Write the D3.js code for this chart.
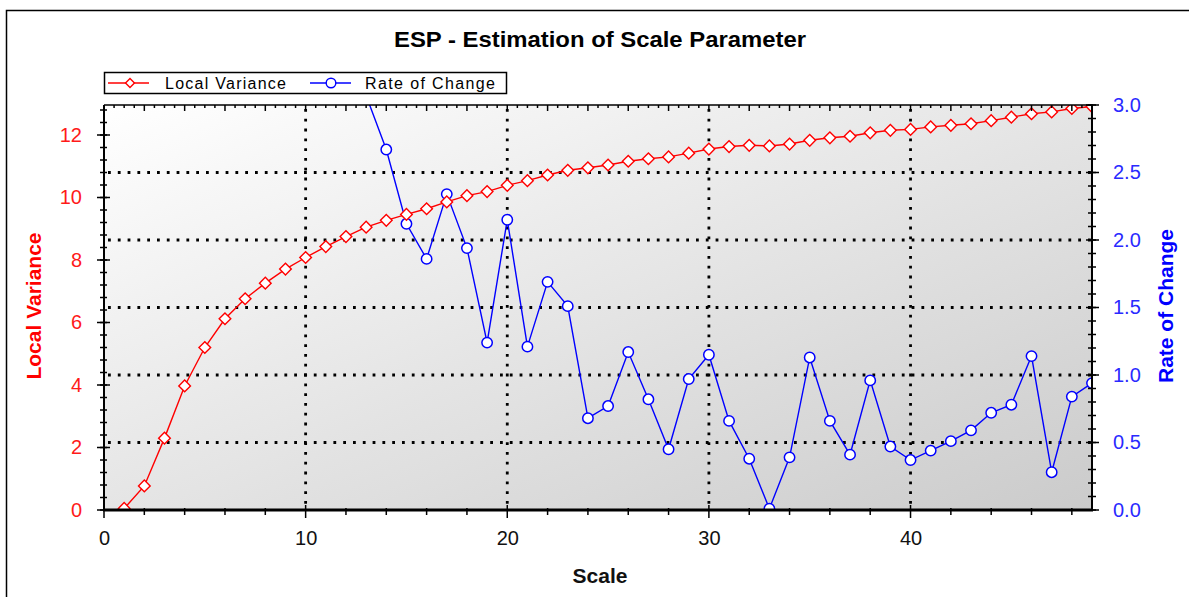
<!DOCTYPE html>
<html>
<head>
<meta charset="utf-8">
<script src="https://cdn.jsdelivr.net/npm/d3@7"></script>
<style>
  body { margin: 0; background: #fff; }
  svg { display: block; font-family: "Liberation Sans", Arial, sans-serif; }
</style>
</head>
<body>
<div id="chart"></div>
<script>
// scale values 1..49
var scales = d3.range(1, 50);

// Local Variance (left axis), one value per scale 1..49
var localVariance = [
  0.05, 0.77, 2.30, 3.97, 5.20, 6.12, 6.76, 7.26, 7.71, 8.08,
  8.43, 8.75, 9.05, 9.27, 9.46, 9.64, 9.86, 10.06, 10.19, 10.39,
  10.54, 10.72, 10.87, 10.95, 11.04, 11.16, 11.24, 11.30, 11.42, 11.55,
  11.63, 11.67, 11.65, 11.71, 11.83, 11.91, 11.96, 12.07, 12.15, 12.18,
  12.26, 12.31, 12.36, 12.46, 12.57, 12.68, 12.74, 12.85, 12.91
];

// Rate of Change (right axis), visible from scale 13 on
var rateScales = d3.range(13, 50);
var rateOfChange = [
  3.07, 2.67, 2.12, 1.86, 2.34, 1.94, 1.24, 2.15, 1.21, 1.69,
  1.51, 0.68, 0.77, 1.17, 0.82, 0.45, 0.97, 1.15, 0.66, 0.38,
  0.01, 0.39, 1.13, 0.66, 0.41, 0.96, 0.47, 0.37, 0.44, 0.51,
  0.59, 0.72, 0.78, 1.14, 0.28, 0.84, 0.94
];

var leftTicks = [0, 2, 4, 6, 8, 10, 12];
var rightTicks = [0, 0.5, 1, 1.5, 2, 2.5, 3];
var xTicks = [0, 10, 20, 30, 40];

var W = 1189, H = 597;
var plot = { left: 104, right: 1092, top: 105, bottom: 510 };

var svg = d3.select("#chart").append("svg")
  .attr("width", W)
  .attr("height", H);

// outer frame
svg.append("rect")
  .attr("x", 6.5).attr("y", 10.5)
  .attr("width", 1250).attr("height", 650)
  .attr("fill", "#fff")
  .attr("stroke", "#000")
  .attr("stroke-width", 1.5);

var x = d3.scaleLinear().domain([0, 49]).range([plot.left, plot.right]);
var yL = d3.scaleLinear().domain([0, 12.96]).range([plot.bottom, plot.top]);
var yR = d3.scaleLinear().domain([0, 3]).range([plot.bottom, plot.top]);

// plot background gradient
var defs = svg.append("defs");
var grad = defs.append("linearGradient")
  .attr("id", "bg")
  .attr("x1", 0).attr("y1", 0).attr("x2", 1).attr("y2", 1);
grad.append("stop").attr("offset", "0%").attr("stop-color", "#ffffff");
grad.append("stop").attr("offset", "100%").attr("stop-color", "#cbcbcb");

defs.append("clipPath").attr("id", "clip")
  .append("rect")
  .attr("x", plot.left).attr("y", plot.top)
  .attr("width", plot.right - plot.left)
  .attr("height", plot.bottom - plot.top);

svg.append("rect")
  .attr("x", plot.left).attr("y", plot.top)
  .attr("width", plot.right - plot.left)
  .attr("height", plot.bottom - plot.top)
  .attr("fill", "url(#bg)");

// dotted grid
var grid = svg.append("g")
  .attr("stroke", "#000")
  .attr("stroke-width", 2.8)
  .attr("stroke-dasharray", "2.8,7");

grid.selectAll(".vg")
  .data(xTicks.filter(function (d) { return d > 0; }))
  .enter().append("line")
  .attr("x1", function (d) { return x(d); })
  .attr("x2", function (d) { return x(d); })
  .attr("y1", plot.top + 4)
  .attr("y2", plot.bottom);

grid.selectAll(".hg")
  .data(rightTicks.filter(function (d) { return d > 0 && d < 3; }))
  .enter().append("line")
  .attr("y1", function (d) { return yR(d); })
  .attr("y2", function (d) { return yR(d); })
  .attr("x1", plot.left + 4)
  .attr("x2", plot.right);

// series
var series = svg.append("g").attr("clip-path", "url(#clip)");

var rateData = rateScales.map(function (s, i) { return [s, rateOfChange[i]]; });
var lvData = scales.map(function (s, i) { return [s, localVariance[i]]; });

series.append("path")
  .datum(rateData)
  .attr("fill", "none")
  .attr("stroke", "#0000ff")
  .attr("stroke-width", 1.4)
  .attr("d", d3.line()
    .x(function (d) { return x(d[0]); })
    .y(function (d) { return yR(d[1]); }));

series.selectAll(".rc")
  .data(rateData)
  .enter().append("circle")
  .attr("cx", function (d) { return x(d[0]); })
  .attr("cy", function (d) { return yR(d[1]); })
  .attr("r", 5.2)
  .attr("fill", "#fff")
  .attr("stroke", "#0000ff")
  .attr("stroke-width", 1.5);

series.append("path")
  .datum(lvData)
  .attr("fill", "none")
  .attr("stroke", "#ff0000")
  .attr("stroke-width", 1.4)
  .attr("d", d3.line()
    .x(function (d) { return x(d[0]); })
    .y(function (d) { return yL(d[1]); }));

var diamond = d3.symbol().type(d3.symbolSquare).size(68);
series.selectAll(".lv")
  .data(lvData)
  .enter().append("path")
  .attr("d", diamond)
  .attr("transform", function (d) {
    return "translate(" + x(d[0]) + "," + yL(d[1]) + ") rotate(45)";
  })
  .attr("fill", "#fff")
  .attr("stroke", "#ff0000")
  .attr("stroke-width", 1.4);

// axis frame lines
var frame = svg.append("g").attr("stroke", "#000");
frame.append("line").attr("x1", plot.left).attr("x2", plot.right + 1)
  .attr("y1", plot.top).attr("y2", plot.top).attr("stroke-width", 1.5);
frame.append("line").attr("x1", plot.left - 1).attr("x2", plot.right + 1)
  .attr("y1", plot.bottom).attr("y2", plot.bottom).attr("stroke-width", 3);
frame.append("line").attr("x1", plot.left).attr("x2", plot.left)
  .attr("y1", plot.top).attr("y2", plot.bottom).attr("stroke-width", 2);
frame.append("line").attr("x1", plot.right).attr("x2", plot.right)
  .attr("y1", plot.top).attr("y2", plot.bottom).attr("stroke-width", 2);

// minor / inner ticks
var ticks = svg.append("g").attr("stroke", "#000").attr("stroke-width", 1.5);

ticks.selectAll(".tt")
  .data(d3.range(0, 49.01, 0.5))
  .enter().append("line")
  .attr("x1", function (d) { return x(d); })
  .attr("x2", function (d) { return x(d); })
  .attr("y1", plot.top)
  .attr("y2", function (d) { return plot.top + (d % 2 === 0 ? 6 : 3); });

ticks.selectAll(".bt")
  .data(d3.range(0, 49, 2))
  .enter().append("line")
  .attr("x1", function (d) { return x(d); })
  .attr("x2", function (d) { return x(d); })
  .attr("y1", function (d) { return plot.bottom - (d % 10 === 0 ? 5 : 2); })
  .attr("y2", function (d) { return plot.bottom + (d % 10 === 0 ? 8 : 5); });

ticks.selectAll(".lt")
  .data(d3.range(0, 12.96, 0.4))
  .enter().append("line")
  .attr("y1", function (d) { return yL(d); })
  .attr("y2", function (d) { return yL(d); })
  .attr("x1", plot.left - 4)
  .attr("x2", plot.left + 3);

ticks.selectAll(".lt2")
  .data(leftTicks)
  .enter().append("line")
  .attr("y1", function (d) { return yL(d); })
  .attr("y2", function (d) { return yL(d); })
  .attr("x1", plot.left - 7)
  .attr("x2", plot.left + 6);

ticks.selectAll(".rt")
  .data(d3.range(0, 3.001, 0.1))
  .enter().append("line")
  .attr("y1", function (d) { return yR(d); })
  .attr("y2", function (d) { return yR(d); })
  .attr("x1", plot.right - 4)
  .attr("x2", plot.right + 4);

ticks.selectAll(".rt2")
  .data(rightTicks)
  .enter().append("line")
  .attr("y1", function (d) { return yR(d); })
  .attr("y2", function (d) { return yR(d); })
  .attr("x1", plot.right - 6)
  .attr("x2", plot.right + 7);

// tick labels via d3 axes
var bottomAxis = svg.append("g")
  .attr("transform", "translate(0," + plot.bottom + ")")
  .call(d3.axisBottom(x).tickValues(xTicks).tickSize(8).tickPadding(13)
    .tickFormat(d3.format("d")));
bottomAxis.select(".domain").remove();
bottomAxis.selectAll("line").remove();
bottomAxis.selectAll("text")
  .attr("font-size", 20).attr("fill", "#111")
  .attr("font-family", "Liberation Sans, Arial, sans-serif");

var leftAxis = svg.append("g")
  .attr("transform", "translate(" + plot.left + ",0)")
  .call(d3.axisLeft(yL).tickValues(leftTicks).tickSize(7).tickPadding(15)
    .tickFormat(d3.format("d")));
leftAxis.select(".domain").remove();
leftAxis.selectAll("line").remove();
leftAxis.selectAll("text")
  .attr("font-size", 20).attr("fill", "#ff1a1a")
  .attr("font-family", "Liberation Sans, Arial, sans-serif");

var rightAxis = svg.append("g")
  .attr("transform", "translate(" + plot.right + ",0)")
  .call(d3.axisRight(yR).tickValues(rightTicks).tickSize(7).tickPadding(14)
    .tickFormat(d3.format(".1f")));
rightAxis.select(".domain").remove();
rightAxis.selectAll("line").remove();
rightAxis.selectAll("text")
  .attr("font-size", 20).attr("fill", "#2a2aff")
  .attr("font-family", "Liberation Sans, Arial, sans-serif");

// titles
svg.append("text")
  .attr("x", 600).attr("y", 47)
  .attr("text-anchor", "middle")
  .attr("font-size", 22).attr("font-weight", "bold")
  .attr("textLength", 412).attr("lengthAdjust", "spacingAndGlyphs")
  .text("ESP - Estimation of Scale Parameter");

svg.append("text")
  .attr("x", 600).attr("y", 583)
  .attr("text-anchor", "middle")
  .attr("font-size", 21).attr("font-weight", "bold")
  .attr("fill", "#111")
  .text("Scale");

svg.append("text")
  .attr("transform", "translate(41,306) rotate(-90)")
  .attr("text-anchor", "middle")
  .attr("font-size", 21).attr("font-weight", "bold")
  .attr("fill", "#ff0000")
  .text("Local Variance");

svg.append("text")
  .attr("transform", "translate(1173,306) rotate(-90)")
  .attr("text-anchor", "middle")
  .attr("font-size", 21).attr("font-weight", "bold")
  .attr("fill", "#0000ff")
  .text("Rate of Change");

// legend
var legend = svg.append("g");
legend.append("rect")
  .attr("x", 104.5).attr("y", 72.5)
  .attr("width", 402).attr("height", 21)
  .attr("fill", "#fff")
  .attr("stroke", "#000")
  .attr("stroke-width", 1.5);

legend.append("line")
  .attr("x1", 108).attr("x2", 149).attr("y1", 83).attr("y2", 83)
  .attr("stroke", "#ff0000").attr("stroke-width", 1.4);
legend.append("path")
  .attr("d", d3.symbol().type(d3.symbolSquare).size(40))
  .attr("transform", "translate(130,83) rotate(45)")
  .attr("fill", "#fff").attr("stroke", "#ff0000").attr("stroke-width", 1.4);
legend.append("text")
  .attr("x", 165).attr("y", 89)
  .attr("font-size", 16)
  .attr("textLength", 121).attr("lengthAdjust", "spacing")
  .text("Local Variance");

legend.append("line")
  .attr("x1", 310).attr("x2", 351).attr("y1", 83).attr("y2", 83)
  .attr("stroke", "#0000ff").attr("stroke-width", 1.4);
legend.append("circle")
  .attr("cx", 331).attr("cy", 83).attr("r", 4.8)
  .attr("fill", "#fff").attr("stroke", "#0000ff").attr("stroke-width", 1.4);
legend.append("text")
  .attr("x", 365).attr("y", 89)
  .attr("font-size", 16)
  .attr("textLength", 130).attr("lengthAdjust", "spacing")
  .text("Rate of Change");
</script>
</body>
</html>
